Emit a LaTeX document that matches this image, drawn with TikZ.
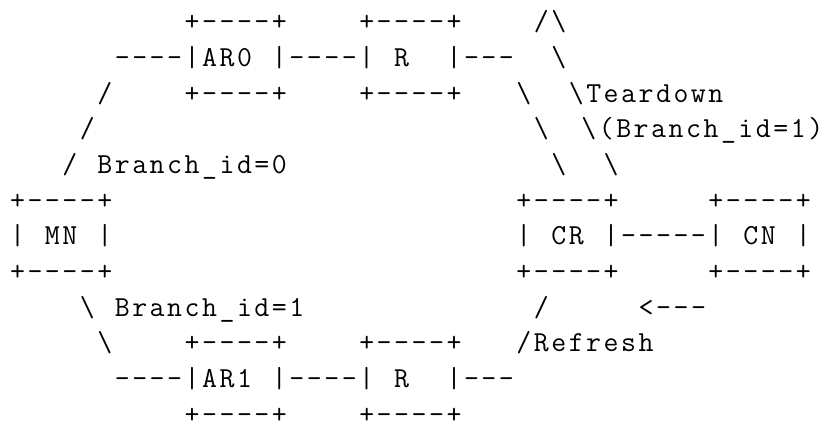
\documentclass[tikz,border=0pt]{standalone}
\usepackage{fontspec}
\newlength\cellw
\setlength\cellw{17.46pt}
\def\cellend{CELLEND}
\def\cells#1{\cellsA#1\cellend}
\def\cellsA#1{\ifx#1\cellend\else\makebox[\cellw][c]{#1}\expandafter\cellsA\fi}
\newcommand\ascfrag[4]{\node[frag] (#1) at ({8.8+#3*17.46},{-31-(#2-1)*35.65}) {\cells{#4}};}
\begin{document}
\begin{tikzpicture}[x=1pt,y=1pt,
  frag/.style={anchor=base west,inner sep=0pt,outer sep=0pt,text=black,
    font=\ttfamily\fontsize{29}{33}\selectfont}]
\fill[white] (0,0) rectangle (826,-428);
\useasboundingbox (0,0) rectangle (826,-428);
% row 1
\ascfrag{arzerotop}{1}{10}{+----+}
\ascfrag{rupptop}{1}{20}{+----+}
\ascfrag{peak}{1}{30}{/\textbackslash}
% row 2
\ascfrag{upperpath}{2}{6}{----|AR0~|----|~R~~|---}
\ascfrag{outerb}{2}{31}{\textbackslash}
% row 3
\ascfrag{upslashc}{3}{5}{/}
\ascfrag{arzerobot}{3}{10}{+----+}
\ascfrag{ruppbot}{3}{20}{+----+}
\ascfrag{innerc}{3}{29}{\textbackslash}
\ascfrag{teardown}{3}{32}{\textbackslash Teardown}
% row 4
\ascfrag{upslashd}{4}{4}{/}
\ascfrag{innerd}{4}{30}{\textbackslash}
\ascfrag{tdbranch}{4}{32.72}{\textbackslash(Branch\_id=1)}
% row 5
\ascfrag{branchzero}{5}{3}{/~Branch\_id=0}
\ascfrag{innere}{5}{31}{\textbackslash}
\ascfrag{outere}{5}{34}{\textbackslash}
% rows 6-8
\ascfrag{mntop}{6}{0}{+----+}
\ascfrag{crtop}{6}{29}{+----+}
\ascfrag{cntop}{6}{40}{+----+}
\ascfrag{mnrow}{7}{0}{|~MN~|}
\ascfrag{crcnrow}{7}{29}{|~CR~|-----|~CN~|}
\ascfrag{mnbot}{8}{0}{+----+}
\ascfrag{crbot}{8}{29}{+----+}
\ascfrag{cnbot}{8}{40}{+----+}
% row 9
\ascfrag{branchone}{9}{4}{\textbackslash~Branch\_id=1}
\ascfrag{lowslashi}{9}{30}{/}
\ascfrag{arrowleft}{9}{36}{<---}
% row 10
\ascfrag{lowbackj}{10}{5}{\textbackslash}
\ascfrag{aronetop}{10}{10}{+----+}
\ascfrag{rlowtop}{10}{20}{+----+}
\ascfrag{refresh}{10}{29}{/Refresh}
% row 11
\ascfrag{lowerpath}{11}{6}{----|AR1~|----|~R~~|---}
% row 12
\ascfrag{aronebot}{12}{10}{+----+}
\ascfrag{rlowbot}{12}{20}{+----+}
\end{tikzpicture}
\end{document}
